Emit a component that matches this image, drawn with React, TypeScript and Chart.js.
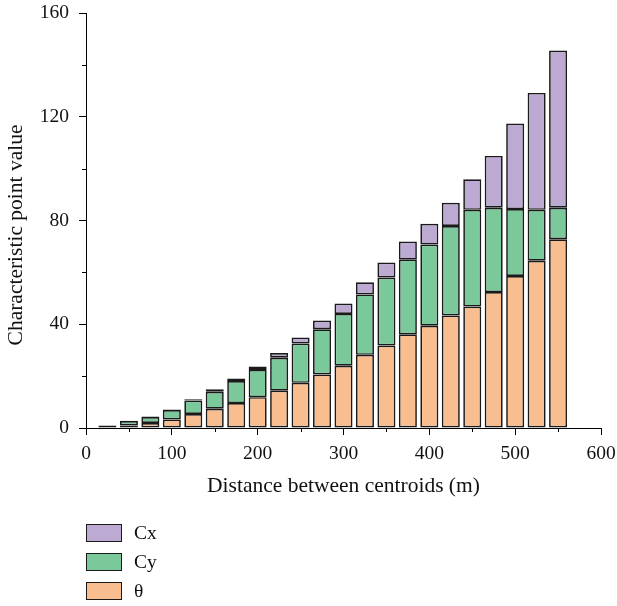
import React, { useEffect, useRef } from "react";
import { Chart, registerables } from "chart.js";

Chart.register(...registerables);

const distances = [25, 50, 75, 100, 125, 150, 175, 200, 225, 250, 275, 300, 325, 350, 375, 400, 425, 450, 475, 500, 525, 550];
const thetaValues = [0.4, 1.0, 1.9, 3.3, 5.4, 7.4, 9.6, 11.9, 14.4, 17.4, 20.6, 24.0, 28.2, 31.8, 36.1, 39.4, 43.4, 46.8, 52.4, 58.6, 64.5, 72.8];
const cyValues = [0.35, 1.7, 2.3, 3.6, 5.2, 6.6, 8.5, 10.5, 12.7, 15.2, 17.5, 20.0, 23.3, 26.2, 28.8, 31.3, 34.5, 37.3, 32.5, 25.8, 19.6, 12.1];
const cxValues = [0.25, 0.1, 0.2, 0.2, 0.5, 0.9, 1.0, 1.3, 1.8, 2.3, 3.3, 4.0, 4.7, 5.8, 7.0, 8.0, 8.9, 11.8, 20.0, 33.0, 45.1, 60.6];

const seriesNames = ["θ", "Cy", "Cx"];
const seriesColors = ["#F9BE8F", "#7BC99B", "#BCAAD2"];
const legendOrder = [2, 1, 0];

const xMajorTicks = [0, 100, 200, 300, 400, 500, 600];
const xMinorTicks = [50, 150, 250, 350, 450, 550];
const yMajorTicks = [0, 40, 80, 120, 160];
const yMinorTicks = [20, 60, 100, 140];

const yTitle = "Characteristic point value";
const xTitle = "Distance between centroids (m)";

const FONT = "'Liberation Serif', 'DejaVu Serif', serif";

const extrasPlugin = {
  id: "extras",
  afterDraw(chart: any) {
    const ctx = chart.ctx;
    const xs = chart.scales.x;
    const ys = chart.scales.y;
    ctx.save();
    ctx.strokeStyle = "#000";
    ctx.lineWidth = 1;
    ctx.beginPath();
    for (const v of xMinorTicks) {
      const px = Math.round(xs.getPixelForValue(v)) + 0.5;
      ctx.moveTo(px, xs.top);
      ctx.lineTo(px, xs.top + 4);
    }
    for (const v of yMinorTicks) {
      const py = Math.round(ys.getPixelForValue(v)) + 0.5;
      ctx.moveTo(ys.right, py);
      ctx.lineTo(ys.right - 4, py);
    }
    ctx.stroke();
    // y axis title (drawn slightly below the axis centre, as in the source figure)
    ctx.fillStyle = "#111";
    ctx.font = `21.5px ${FONT}`;
    ctx.textAlign = "center";
    ctx.textBaseline = "middle";
    ctx.translate(16, 235);
    ctx.rotate(-Math.PI / 2);
    ctx.fillText(yTitle, 0, 0);
    ctx.restore();
  },
};

export default function App() {
  const canvasRef = useRef<HTMLCanvasElement | null>(null);

  useEffect(() => {
    if (!canvasRef.current) return;
    const values = [thetaValues, cyValues, cxValues];
    const datasets = values.map((arr, i) => ({
      label: seriesNames[i],
      data: distances.map((d, j) => ({ x: d, y: arr[j] })),
      backgroundColor: seriesColors[i],
      borderColor: "#1a1a1a",
      borderWidth: 1.7,
      borderSkipped: false,
      barPercentage: 0.84,
      categoryPercentage: 1,
    }));
    const zeroPad = (scale: any) => {
      scale.paddingTop = 0;
      scale.paddingBottom = 0;
      scale.paddingLeft = 0;
      scale.paddingRight = 0;
    };
    const chart = new Chart(canvasRef.current, {
      type: "bar",
      data: { datasets },
      plugins: [extrasPlugin],
      options: {
        animation: false,
        responsive: false,
        maintainAspectRatio: false,
        layout: { padding: { left: 0, right: 16, top: 13, bottom: 98 } },
        plugins: {
          legend: { display: false },
          tooltip: { enabled: false },
        },
        scales: {
          x: {
            type: "linear",
            stacked: true,
            offset: false,
            min: 0,
            max: 600,
            afterBuildTicks: (scale: any) => {
              scale.ticks = xMajorTicks.map((v) => ({ value: v }));
            },
            afterFit: (scale: any) => {
              scale.height = 80;
              zeroPad(scale);
            },
            grid: {
              offset: false,
              drawOnChartArea: false,
              drawTicks: true,
              tickLength: 7,
              color: "#000",
            },
            border: { display: true, color: "#000", width: 1 },
            ticks: {
              color: "#111",
              font: { family: FONT, size: 19.5 },
              padding: 7,
              maxRotation: 0,
              autoSkip: false,
            },
            title: {
              display: true,
              text: xTitle,
              color: "#111",
              font: { family: FONT, size: 21.5 },
              padding: { top: 0, bottom: 9 },
              align: "center",
            },
          },
          y: {
            type: "linear",
            stacked: true,
            min: 0,
            max: 160,
            afterBuildTicks: (scale: any) => {
              scale.ticks = yMajorTicks.map((v) => ({ value: v }));
            },
            afterFit: (scale: any) => {
              scale.width = 86;
              zeroPad(scale);
            },
            grid: {
              drawOnChartArea: false,
              drawTicks: true,
              tickLength: 7,
              color: "#000",
            },
            border: { display: true, color: "#000", width: 1 },
            ticks: {
              color: "#111",
              font: { family: FONT, size: 19.5 },
              padding: 10,
              autoSkip: false,
            },
            title: { display: false },
          },
        },
      } as any,
    });
    return () => chart.destroy();
  }, []);

  return (
    <div style={{ position: "fixed", left: 0, top: 0, width: 617, height: 606, background: "#fff" }}>
      <canvas ref={canvasRef} width={617} height={606} style={{ position: "absolute", left: 0, top: 0 }} />
      {legendOrder.map((idx, row) => (
        <div
          key={seriesNames[idx]}
          style={{ position: "absolute", left: 86, top: 524 + row * 28.8, height: 18, display: "flex", alignItems: "center" }}
        >
          <div
            style={{
              width: 36,
              height: 18,
              boxSizing: "border-box",
              background: seriesColors[idx],
              border: "1.5px solid #1a1a1a",
            }}
          />
          <span style={{ marginLeft: 12, fontFamily: FONT, fontSize: 19.5, color: "#111", lineHeight: "18px" }}>
            {seriesNames[idx]}
          </span>
        </div>
      ))}
    </div>
  );
}
